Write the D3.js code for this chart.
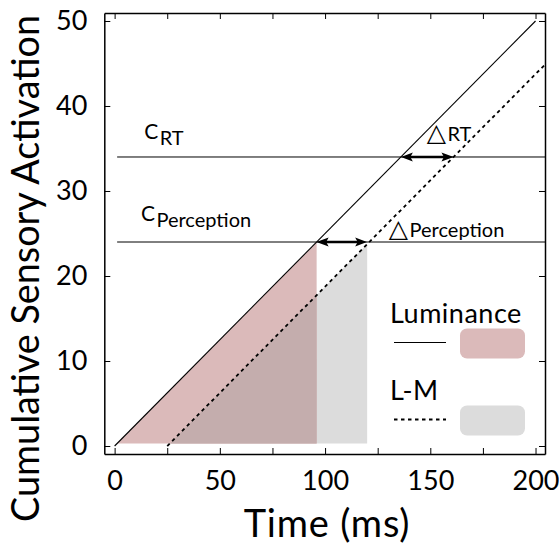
<!DOCTYPE html>
<html>
<head>
<meta charset="utf-8">
<script src="https://cdn.jsdelivr.net/npm/d3@7"></script>
<style>
  body { margin: 0; background: #fff; }
  svg { display: block; }
  text { font-family: Lato, "Open Sans", sans-serif; fill: #000; }
</style>
</head>
<body>
<svg id="chart" width="559" height="546"></svg>
<script>
// Axis extents and ticks
const xDomain = [-4.9, 204.5];
const yDomain = [-0.94, 50.94];
const xTicks = [0, 25, 50, 75, 100, 125, 150, 175, 200];
const xTickLabels = [0, 50, 100, 150, 200];
const yTicks = [0, 10, 20, 30, 40, 50];

// Accumulation lines: time (ms) -> cumulative activation
const luminanceLine = [[0, 0], [200, 50]];
const lmLine = [[25, 0], [204.5, 44.875]];

// Criterion levels
const criterionRT = 34;
const criterionPerception = 24;

// Times at which each signal reaches the criteria
const perceptionTimes = [96, 120];
const rtTimes = [136, 161];

// Shaded accumulation regions [start, end] in ms
const fillBase = 0.3;
const luminanceFill = [1.2, 96];
const lmFill = [26.2, 120];

const width = 559, height = 546;
const margin = { top: 13, right: 14, bottom: 92, left: 104.3 };

const svg = d3.select("#chart");
const x = d3.scaleLinear().domain(xDomain).range([margin.left, width - margin.right]);
const y = d3.scaleLinear().domain(yDomain).range([height - margin.bottom, margin.top]);

// linear interpolation along a two-point line
const along = (line) => (t) => {
  const [[t0, v0], [t1, v1]] = line;
  return v0 + (v1 - v0) * (t - t0) / (t1 - t0);
};
const lum = along(luminanceLine);
const lm = along(lmLine);

const area = (fn) => d3.area()
  .x(d => x(d))
  .y0(y(fillBase))
  .y1(d => y(fn(d)));

// Shaded regions: L-M (grey), luminance (pink), overlap (darker)
svg.append("path")
  .attr("d", area(lm)(lmFill))
  .attr("fill", "#dcdcdc");
svg.append("path")
  .attr("d", area(lum)(luminanceFill))
  .attr("fill", "#dbbaba");
svg.append("path")
  .attr("d", area(lm)([lmFill[0], luminanceFill[1]]))
  .attr("fill", "#c4adad");

// Criterion lines
[criterionRT, criterionPerception].forEach(v => {
  svg.append("line")
    .attr("x1", x(1.2)).attr("x2", x(xDomain[1]))
    .attr("y1", y(v)).attr("y2", y(v))
    .attr("stroke", "#000").attr("stroke-width", 1);
});

// Accumulation lines
const lineGen = d3.line().x(d => x(d[0])).y(d => y(d[1]));
svg.append("path")
  .attr("d", lineGen(luminanceLine))
  .attr("fill", "none").attr("stroke", "#000").attr("stroke-width", 1.1);
svg.append("path")
  .attr("d", lineGen(lmLine))
  .attr("fill", "none").attr("stroke", "#000").attr("stroke-width", 1.8)
  .attr("stroke-dasharray", "3.5,3.5");

// Double-headed arrows between the two crossing times
const defs = svg.append("defs");
defs.append("marker")
  .attr("id", "head")
  .attr("markerUnits", "userSpaceOnUse")
  .attr("viewBox", "0 -5 12 10")
  .attr("refX", 6).attr("refY", 0)
  .attr("markerWidth", 12).attr("markerHeight", 10)
  .attr("orient", "auto-start-reverse")
  .append("path")
  .attr("d", "M0,-4.5L12,0L0,4.5L2.5,0Z")
  .attr("fill", "#000");

[[perceptionTimes, criterionPerception], [rtTimes, criterionRT]].forEach(([ts, v]) => {
  svg.append("line")
    .attr("x1", x(ts[0]) + 6).attr("x2", x(ts[1]) - 6)
    .attr("y1", y(v)).attr("y2", y(v))
    .attr("stroke", "#000").attr("stroke-width", 2.6)
    .attr("marker-start", "url(#head)")
    .attr("marker-end", "url(#head)");
});

// Axes on all four sides, ticks pointing inward
const fmt = d => xTickLabels.includes(d) ? d : "";
const axes = [
  [d3.axisBottom(x).tickValues(xTicks).tickFormat(fmt), `translate(0,${height - margin.bottom})`],
  [d3.axisTop(x).tickValues(xTicks).tickFormat(""), `translate(0,${margin.top})`],
  [d3.axisLeft(y).tickValues(yTicks).tickFormat(d3.format("d")), `translate(${margin.left},0)`],
  [d3.axisRight(y).tickValues(yTicks).tickFormat(""), `translate(${width - margin.right},0)`]
];
axes.forEach(([ax, tr]) => {
  const g = svg.append("g")
    .attr("transform", tr)
    .call(ax.tickSizeInner(-6).tickSizeOuter(0).tickPadding(17));
  g.select(".domain").attr("stroke", "#000").attr("stroke-width", 1.5);
  g.selectAll(".tick line").attr("stroke", "#000").attr("stroke-width", 1);
  g.selectAll(".tick text")
    .style("font-family", "Lato, sans-serif")
    .style("font-size", "27px")
    .attr("fill", "#000");
});

// Axis titles
svg.append("text")
  .attr("x", 327).attr("y", 536.5)
  .attr("text-anchor", "middle")
  .style("font-size", "38px")
  .style("letter-spacing", "0.8px")
  .text("Time (ms)");
const yTitle = svg.append("text")
  .attr("transform", "translate(39.3,268.5) rotate(-90)")
  .attr("text-anchor", "middle")
  .style("font-size", "36px")
  .text("Cumulative Sensory Activation");
// fit the vertical title to the plot height span
const yTitleLen = yTitle.node().getComputedTextLength();
yTitle.style("font-size", (36 * 507 / yTitleLen).toFixed(2) + "px");

// Criterion labels
const critLabel = (px, py, sub) => {
  const t = svg.append("text").attr("x", px).attr("y", py).style("font-size", "20px");
  t.append("tspan").style("font-size", "21px").text("C");
  t.append("tspan").attr("dy", 6).attr("dx", 1.5).text(sub);
};
critLabel(x(14.1), y(criterionRT) - 17.5, "RT");
critLabel(x(12.5), y(criterionPerception) - 21, "Perception");

// Delta labels
const deltaLabel = (px, py, txt) => {
  const t = svg.append("text").attr("x", px).attr("y", py);
  t.append("tspan").style("font-family", "'DejaVu Sans'").style("font-size", "25px").text("\u25B3");
  t.append("tspan").attr("dx", 1.5).style("font-size", "20px").text(txt);
};
deltaLabel(x(148.3), y(criterionRT) - 15.5, "RT");
deltaLabel(x(130.3), y(criterionPerception) - 5, "Perception");

// Legend
const legend = [
  { label: "Luminance", dash: null, fill: "#dbbaba", top: 323 },
  { label: "L-M", dash: "3.5,3.5", fill: "#dcdcdc", top: 400 }
];
legend.forEach(d => {
  svg.append("text").attr("x", 390).attr("y", d.top)
    .style("font-size", "27px").style("letter-spacing", "0.5px").text(d.label);
  svg.append("line")
    .attr("x1", 394).attr("x2", 446)
    .attr("y1", d.top + 19.5).attr("y2", d.top + 19.5)
    .attr("stroke", "#000").attr("stroke-width", d.dash ? 1.8 : 1.2)
    .attr("stroke-dasharray", d.dash);
  svg.append("rect")
    .attr("x", 460).attr("y", d.top + 5.5)
    .attr("width", 65).attr("height", 30).attr("rx", 7)
    .attr("fill", d.fill);
});
</script>
</body>
</html>
